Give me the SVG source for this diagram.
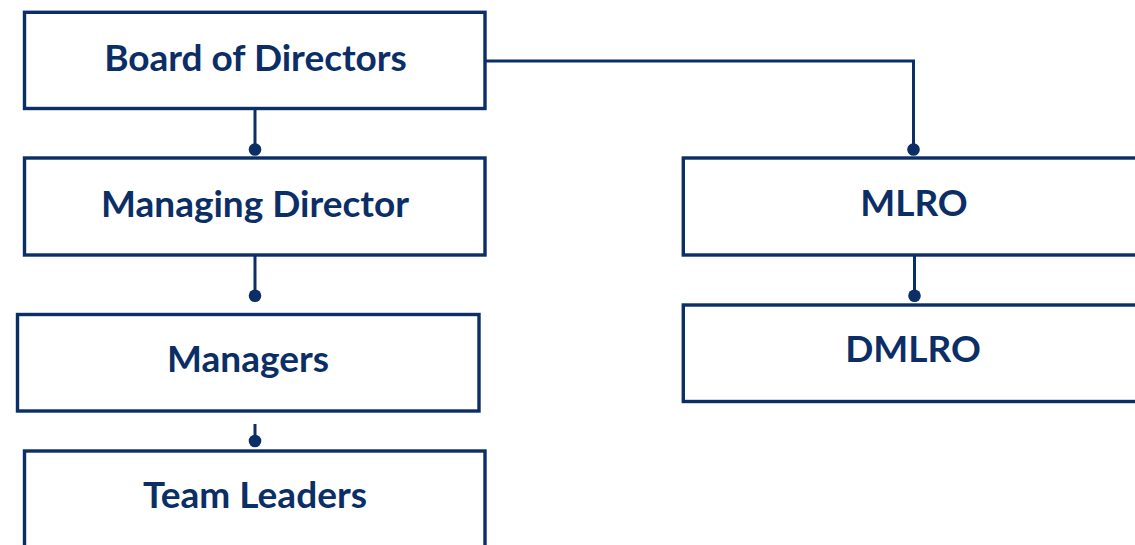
<svg xmlns="http://www.w3.org/2000/svg" width="1135" height="545" viewBox="0 0 1135 545">
  <style>
    .box { fill: #ffffff; stroke: #0b2e66; stroke-width: 3.4; }
    .label { font-family: Lato, "Open Sans", "Liberation Sans", sans-serif; font-weight: 700; font-size: 37px; fill: #0b2e66; text-anchor: middle; }
    .link { fill: none; stroke: #0b2e66; stroke-width: 3; }
    .dot { fill: #0b2e66; }
  </style>
  <rect width="1135" height="545" fill="#ffffff"/>

  <g id="connectors">
    <line class="link" x1="255" y1="109" x2="255" y2="149"/>
    <circle class="dot" cx="255" cy="149.5" r="6.3"/>
    <line class="link" x1="255" y1="256" x2="255" y2="295"/>
    <circle class="dot" cx="255" cy="295.7" r="6.3"/>
    <line class="link" x1="255" y1="424" x2="255" y2="441"/>
    <circle class="dot" cx="255" cy="441" r="6.3"/>
    <polyline class="link" points="480.5,61 913.5,61 913.5,149"/>
    <circle class="dot" cx="913.5" cy="149.5" r="6.3"/>
    <line class="link" x1="914.5" y1="256" x2="914.5" y2="295"/>
    <circle class="dot" cx="914.5" cy="295.7" r="6.3"/>
  </g>

  <g id="board">
    <rect class="box" x="24.5" y="12.3" width="460.5" height="96.2"/>
    <text class="label" x="255.5" y="71">Board of Directors</text>
  </g>
  <g id="managing-director">
    <rect class="box" x="24.5" y="158" width="460.5" height="97"/>
    <text class="label" x="255" y="217">Managing Director</text>
  </g>
  <g id="managers">
    <rect class="box" x="17.5" y="314.5" width="461.5" height="96.5"/>
    <text class="label" x="248" y="372">Managers</text>
  </g>
  <g id="team-leaders">
    <rect class="box" x="24.5" y="451" width="460.5" height="120"/>
    <text class="label" x="255" y="508">Team Leaders</text>
  </g>
  <g id="mlro">
    <rect class="box" x="683.3" y="158" width="480" height="97"/>
    <text class="label" x="914" y="216">MLRO</text>
  </g>
  <g id="dmlro">
    <rect class="box" x="683.3" y="305" width="480" height="96.5"/>
    <text class="label" x="913" y="362">DMLRO</text>
  </g>
</svg>
